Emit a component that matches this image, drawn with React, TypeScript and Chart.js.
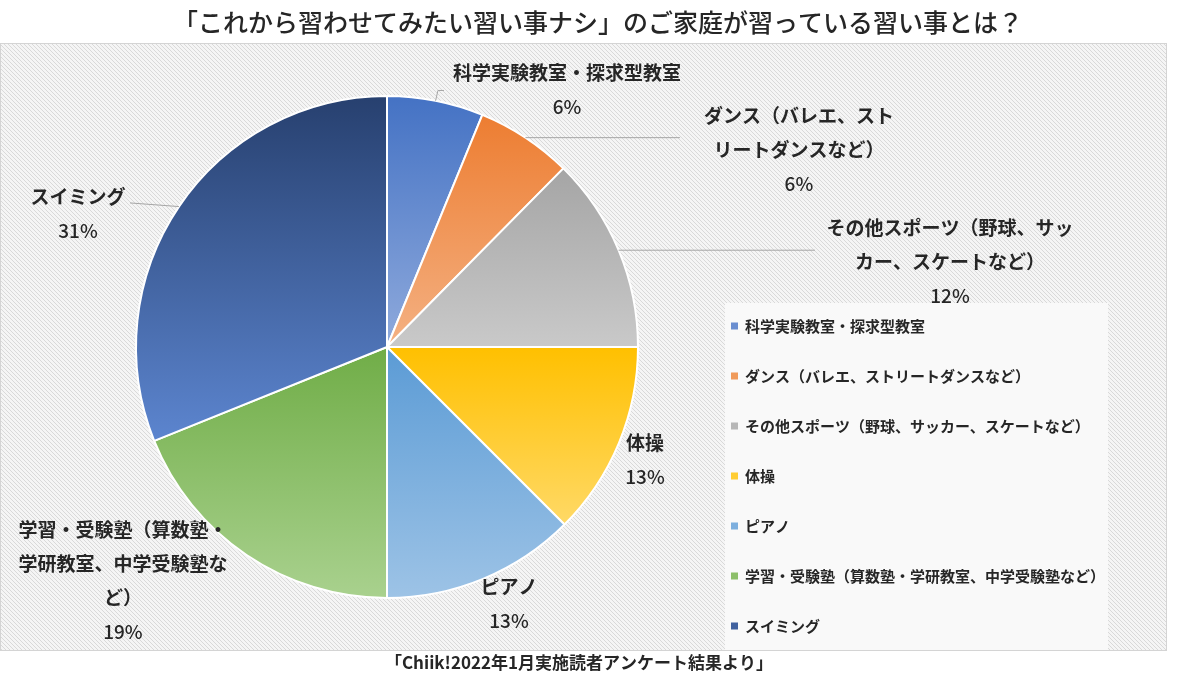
import React, { useEffect, useRef } from "react";
import { Chart, registerables } from "chart.js";

Chart.register(...registerables);

const TITLE = "「これから習わせてみたい習い事ナシ」のご家庭が習っている習い事とは？";
const SOURCE = "「Chiik!2022年1月実施読者アンケート結果より」";

const categories = [
  "科学実験教室・探求型教室",
  "ダンス（バレエ、ストリートダンスなど）",
  "その他スポーツ（野球、サッカー、スケートなど）",
  "体操",
  "ピアノ",
  "学習・受験塾（算数塾・学研教室、中学受験塾など）",
  "スイミング",
];
const sliceValues = [6.2, 6.2, 12.6, 12.5, 12.5, 18.9, 31.1];
const percentLabels = ["6%", "6%", "12%", "13%", "13%", "19%", "31%"];

const gradientTop = ["#4472C4", "#ED7D31", "#A5A5A5", "#FFC000", "#5B9BD5", "#70AD47", "#27406F"];
const gradientBottom = ["#8FAADC", "#F4B183", "#C9C9C9", "#FFD966", "#9DC3E6", "#A9D18E", "#5C85CF"];
const legendColors = ["#6A8ED0", "#F09A5A", "#B7B7B7", "#FFCD33", "#7DAFDE", "#8DBF6A", "#41629F"];

// layout (not data)
const W = 1200;
const H = 675;
const PANEL = { x: 0.5, y: 43.5, w: 1166, h: 607 };
const LEGEND_BOX = { x: 725, y: 303, w: 383, h: 347 };
const LABEL_LAYOUT = [
  { kx: 0.717, ky: -1.092, maxW: 260, leader: [[0.203, -1.022], [0.227, -1.022]] },
  { kx: 1.641, ky: -0.92, maxW: 200, leaderX: 1.167 },
  { kx: 2.243, ky: -0.474, maxW: 256, leaderX: 1.705 },
  { kx: 1.028, ky: 0.382, maxW: 200 },
  { kx: 0.486, ky: 0.956, maxW: 200 },
  { kx: -1.052, ky: 0.729, maxW: 218 },
  { kx: -1.231, ky: -0.598, maxW: 200, leader: [[-1.024, -0.574]] },
];
const FONT = '"Noto Sans CJK JP", "Noto Sans", sans-serif';
const TEXT = "#262626";

function wrap(ctx: CanvasRenderingContext2D, text: string, maxW: number): string[] {
  const lines: string[] = [];
  let cur = "";
  for (const ch of Array.from(text)) {
    const t = cur + ch;
    if (cur && ctx.measureText(t).width > maxW) {
      lines.push(cur);
      cur = ch;
    } else cur = t;
  }
  if (cur) lines.push(cur);
  return lines;
}

function makePattern(ctx: CanvasRenderingContext2D) {
  const c = document.createElement("canvas");
  c.width = 4;
  c.height = 4;
  const p = c.getContext("2d")!;
  p.fillStyle = "#F5F5F5";
  p.fillRect(0, 0, 4, 4);
  p.fillStyle = "#D9D9D9";
  for (let i = 0; i < 4; i++) p.fillRect(i, i, 1, 1);
  return ctx.createPattern(c, "repeat")!;
}

const backgroundPlugin = {
  id: "panelBackground",
  beforeDraw(chart: any) {
    const ctx: CanvasRenderingContext2D = chart.ctx;
    ctx.save();
    ctx.fillStyle = "#FFFFFF";
    ctx.fillRect(0, 0, W, H);
    ctx.fillStyle = makePattern(ctx);
    ctx.fillRect(PANEL.x, PANEL.y, PANEL.w, PANEL.h);
    ctx.strokeStyle = "#D4D4D4";
    ctx.lineWidth = 1;
    ctx.strokeRect(PANEL.x, PANEL.y, PANEL.w, PANEL.h);
    ctx.fillStyle = "#F9F9F9";
    ctx.fillRect(LEGEND_BOX.x, LEGEND_BOX.y, LEGEND_BOX.w, LEGEND_BOX.h);
    ctx.restore();
  },
};

const annotationsPlugin = {
  id: "pieAnnotations",
  afterDraw(chart: any) {
    const ctx: CanvasRenderingContext2D = chart.ctx;
    const meta = chart.getDatasetMeta(0);
    const labels: string[] = chart.data.labels;
    ctx.save();

    // title & source
    ctx.fillStyle = TEXT;
    ctx.textAlign = "center";
    ctx.textBaseline = "middle";
    ctx.font = `500 25px ${FONT}`;
    ctx.fillText(TITLE, 598, 22);
    ctx.font = `bold 17px ${FONT}`;
    ctx.fillText(SOURCE, 579, 663);

    // data labels + leader lines
    meta.data.forEach((arc: any, i: number) => {
      const lay = LABEL_LAYOUT[i];
      const { x: cx, y: cy, outerRadius: r, startAngle, endAngle } = arc;
      const mid = (startAngle + endAngle) / 2;
      const ex = cx + r * Math.cos(mid);
      const ey = cy + r * Math.sin(mid);
      ctx.strokeStyle = "#A6A6A6";
      ctx.lineWidth = 1;
      if (lay.leaderX !== undefined) {
        ctx.beginPath();
        ctx.moveTo(ex, ey);
        ctx.lineTo(cx + lay.leaderX * r, ey);
        ctx.stroke();
      } else if (lay.leader) {
        ctx.beginPath();
        ctx.moveTo(ex, ey);
        for (const [kx, ky] of lay.leader) ctx.lineTo(cx + kx * r, cy + ky * r);
        ctx.stroke();
      }
      const lx = cx + lay.kx * r;
      let ly = cy + lay.ky * r;
      ctx.fillStyle = TEXT;
      ctx.textAlign = "center";
      ctx.textBaseline = "middle";
      ctx.font = `bold 19px ${FONT}`;
      const lines = wrap(ctx, labels[i], lay.maxW);
      for (const line of lines) {
        ctx.fillText(line, lx, ly);
        ly += 34;
      }
      ctx.font = `500 19px ${FONT}`;
      ctx.fillText(percentLabels[i], lx, ly);
    });

    // legend
    ctx.textAlign = "left";
    ctx.textBaseline = "middle";
    ctx.font = `bold 15px ${FONT}`;
    labels.forEach((lab, i) => {
      const y = LEGEND_BOX.y + 23 + i * 50;
      ctx.fillStyle = legendColors[i];
      ctx.fillRect(LEGEND_BOX.x + 6, y - 3.5, 7, 7);
      ctx.fillStyle = TEXT;
      ctx.fillText(lab, LEGEND_BOX.x + 20, y);
    });
    ctx.restore();
  },
};

function sliceGradient(context: any) {
  const i = context.dataIndex;
  const chart = context.chart;
  const area = chart.chartArea;
  if (!area) return gradientTop[i];
  const data = context.dataset.data as number[];
  const total = data.reduce((a, b) => a + b, 0);
  let cum = 0;
  for (let j = 0; j < i; j++) cum += data[j];
  const a0 = -Math.PI / 2 + (2 * Math.PI * cum) / total;
  const a1 = a0 + (2 * Math.PI * data[i]) / total;
  const cx = (area.left + area.right) / 2;
  const cy = (area.top + area.bottom) / 2;
  const r = (Math.min(area.width, area.height) - 2) / 2;
  const ys = [cy, cy + r * Math.sin(a0), cy + r * Math.sin(a1)];
  for (const e of [-Math.PI / 2, Math.PI / 2, (3 * Math.PI) / 2]) {
    if (e > a0 && e < a1) ys.push(cy + r * Math.sin(e));
  }
  const g = chart.ctx.createLinearGradient(0, Math.min(...ys), 0, Math.max(...ys));
  g.addColorStop(0, gradientTop[i]);
  g.addColorStop(1, gradientBottom[i]);
  return g;
}

export default function App() {
  const ref = useRef<HTMLCanvasElement>(null);
  useEffect(() => {
    if (!ref.current) return;
    const chart = new Chart(ref.current, {
      type: "pie",
      data: {
        labels: categories,
        datasets: [
          {
            data: sliceValues,
            backgroundColor: sliceGradient,
            borderColor: "#FFFFFF",
            borderWidth: 2,
          },
        ],
      },
      options: {
        responsive: false,
        animation: false,
        events: [],
        layout: { padding: { left: 135, top: 95, right: 561, bottom: 76 } },
        plugins: {
          legend: { display: false },
          tooltip: { enabled: false },
          title: { display: false },
        },
      },
      plugins: [backgroundPlugin, annotationsPlugin],
    });
    return () => chart.destroy();
  }, []);
  return (
    <div style={{ position: "fixed", left: 0, top: 0, width: W, height: H, background: "#fff" }}>
      <canvas ref={ref} width={W} height={H} style={{ display: "block", width: W, height: H }} />
    </div>
  );
}
